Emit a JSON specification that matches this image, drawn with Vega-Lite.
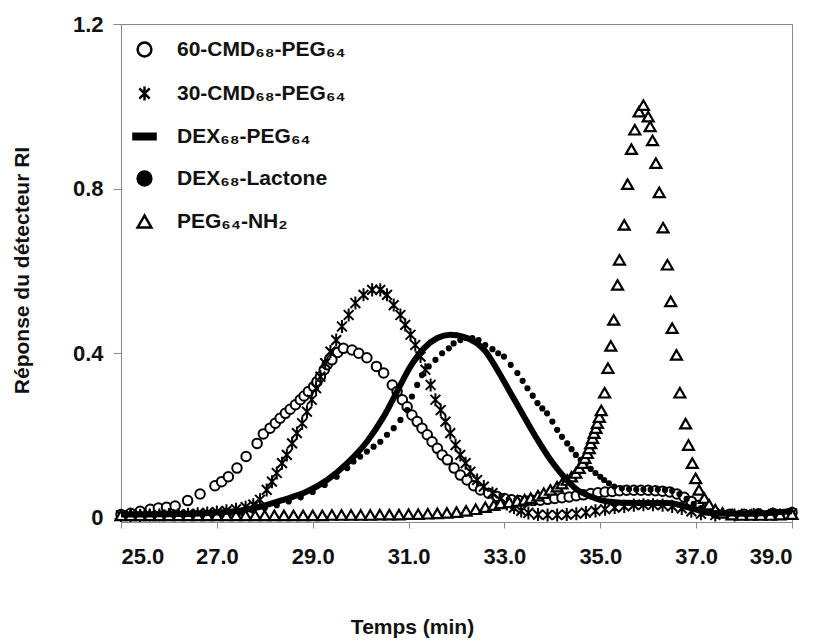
{
  "$schema": "https://vega.github.io/schema/vega-lite/v6.json",
  "width": 671,
  "height": 498,
  "autosize": {"type": "none"},
  "padding": {"left": 121, "top": 24, "right": 28, "bottom": 121},
  "background": "white",
  "config": {
    "view": {"stroke": "#888", "strokeWidth": 1},
    "font": "Liberation Sans",
    "axis": {
      "grid": false,
      "domainColor": "#888",
      "tickColor": "#888",
      "labelFont": "Liberation Sans",
      "labelFontWeight": "bold",
      "labelColor": "#111",
      "titleFont": "Liberation Sans",
      "titleFontWeight": "bold",
      "titleColor": "#111"
    },
    "legend": {
      "labelFont": "Liberation Sans",
      "labelFontWeight": "bold",
      "labelFontSize": 21,
      "labelColor": "#111",
      "labelLimit": 400,
      "symbolSize": 190,
      "symbolStrokeWidth": 2.5
    }
  },
  "datasets": {
    "chrom": [
      {"s":"dp","t":25.0,"r":0.008},{"s":"dp","t":25.5,"r":0.008},{"s":"dp","t":26.0,"r":0.009},{"s":"dp","t":26.5,"r":0.01},{"s":"dp","t":27.0,"r":0.013},{"s":"dp","t":27.5,"r":0.018},{"s":"dp","t":27.9,"r":0.027},{"s":"dp","t":28.39,"r":0.044},{"s":"dp","t":28.88,"r":0.064},{"s":"dp","t":29.3,"r":0.092},{"s":"dp","t":29.72,"r":0.133},{"s":"dp","t":30.13,"r":0.185},{"s":"dp","t":30.48,"r":0.246},{"s":"dp","t":30.76,"r":0.307},{"s":"dp","t":31.04,"r":0.368},{"s":"dp","t":31.32,"r":0.412},{"s":"dp","t":31.6,"r":0.437},{"s":"dp","t":31.87,"r":0.445},{"s":"dp","t":32.15,"r":0.44},{"s":"dp","t":32.43,"r":0.424},{"s":"dp","t":32.6,"r":0.405},{"s":"dp","t":32.85,"r":0.36},{"s":"dp","t":33.13,"r":0.303},{"s":"dp","t":33.41,"r":0.246},{"s":"dp","t":33.69,"r":0.19},{"s":"dp","t":33.96,"r":0.141},{"s":"dp","t":34.24,"r":0.1},{"s":"dp","t":34.52,"r":0.068},{"s":"dp","t":34.8,"r":0.052},{"s":"dp","t":35.15,"r":0.04},{"s":"dp","t":35.71,"r":0.036},{"s":"dp","t":36.4,"r":0.036},{"s":"dp","t":36.89,"r":0.024},{"s":"dp","t":37.31,"r":0.012},{"s":"dp","t":38.0,"r":0.01},{"s":"dp","t":38.5,"r":0.012},{"s":"dp","t":39.0,"r":0.016},

      {"s":"c60","t":25.0,"r":0.008},{"s":"c60","t":25.2,"r":0.011},{"s":"c60","t":25.4,"r":0.016},{"s":"c60","t":25.61,"r":0.021},{"s":"c60","t":25.78,"r":0.024},{"s":"c60","t":25.95,"r":0.026},{"s":"c60","t":26.13,"r":0.029},{"s":"c60","t":26.39,"r":0.042},{"s":"c60","t":26.65,"r":0.058},{"s":"c60","t":26.96,"r":0.078},{"s":"c60","t":27.1,"r":0.088},{"s":"c60","t":27.24,"r":0.1},{"s":"c60","t":27.42,"r":0.121},{"s":"c60","t":27.61,"r":0.149},{"s":"c60","t":27.84,"r":0.181},{"s":"c60","t":27.97,"r":0.204},{"s":"c60","t":28.11,"r":0.218},{"s":"c60","t":28.22,"r":0.23},{"s":"c60","t":28.32,"r":0.242},{"s":"c60","t":28.43,"r":0.254},{"s":"c60","t":28.53,"r":0.264},{"s":"c60","t":28.64,"r":0.275},{"s":"c60","t":28.74,"r":0.287},{"s":"c60","t":28.82,"r":0.296},{"s":"c60","t":28.91,"r":0.307},{"s":"c60","t":29.02,"r":0.319},{"s":"c60","t":29.09,"r":0.331},{"s":"c60","t":29.16,"r":0.343},{"s":"c60","t":29.24,"r":0.36},{"s":"c60","t":29.3,"r":0.372},{"s":"c60","t":29.4,"r":0.384},{"s":"c60","t":29.52,"r":0.402},{"s":"c60","t":29.64,"r":0.412},{"s":"c60","t":29.82,"r":0.408},{"s":"c60","t":29.96,"r":0.4},{"s":"c60","t":30.13,"r":0.389},{"s":"c60","t":30.33,"r":0.368},{"s":"c60","t":30.48,"r":0.352},{"s":"c60","t":30.66,"r":0.323},{"s":"c60","t":30.76,"r":0.307},{"s":"c60","t":30.87,"r":0.287},{"s":"c60","t":30.97,"r":0.27},{"s":"c60","t":31.07,"r":0.25},{"s":"c60","t":31.18,"r":0.234},{"s":"c60","t":31.28,"r":0.218},{"s":"c60","t":31.39,"r":0.202},{"s":"c60","t":31.49,"r":0.185},{"s":"c60","t":31.6,"r":0.169},{"s":"c60","t":31.7,"r":0.153},{"s":"c60","t":31.81,"r":0.141},{"s":"c60","t":31.95,"r":0.121},{"s":"c60","t":32.08,"r":0.104},{"s":"c60","t":32.22,"r":0.092},{"s":"c60","t":32.36,"r":0.078},{"s":"c60","t":32.5,"r":0.068},{"s":"c60","t":32.67,"r":0.06},{"s":"c60","t":32.85,"r":0.052},{"s":"c60","t":33.0,"r":0.047},{"s":"c60","t":33.15,"r":0.044},{"s":"c60","t":33.3,"r":0.042},{"s":"c60","t":33.45,"r":0.041},{"s":"c60","t":33.6,"r":0.042},{"s":"c60","t":33.75,"r":0.043},{"s":"c60","t":33.9,"r":0.045},{"s":"c60","t":34.05,"r":0.047},{"s":"c60","t":34.2,"r":0.049},{"s":"c60","t":34.35,"r":0.051},{"s":"c60","t":34.5,"r":0.054},{"s":"c60","t":34.65,"r":0.056},{"s":"c60","t":34.8,"r":0.059},{"s":"c60","t":34.95,"r":0.061},{"s":"c60","t":35.1,"r":0.063},{"s":"c60","t":35.25,"r":0.064},{"s":"c60","t":35.4,"r":0.066},{"s":"c60","t":35.55,"r":0.067},{"s":"c60","t":35.7,"r":0.067},{"s":"c60","t":35.85,"r":0.067},{"s":"c60","t":36.0,"r":0.067},{"s":"c60","t":36.15,"r":0.066},{"s":"c60","t":36.3,"r":0.065},{"s":"c60","t":36.45,"r":0.063},{"s":"c60","t":36.6,"r":0.058},{"s":"c60","t":36.75,"r":0.05},{"s":"c60","t":36.9,"r":0.04},{"s":"c60","t":37.05,"r":0.03},{"s":"c60","t":37.2,"r":0.02},{"s":"c60","t":37.4,"r":0.012},{"s":"c60","t":37.7,"r":0.009},{"s":"c60","t":38.0,"r":0.009},{"s":"c60","t":38.3,"r":0.01},{"s":"c60","t":38.6,"r":0.011},{"s":"c60","t":39.0,"r":0.013},

      {"s":"c30","t":25.0,"r":0.006},{"s":"c30","t":25.2,"r":0.006},{"s":"c30","t":25.4,"r":0.006},{"s":"c30","t":25.6,"r":0.007},{"s":"c30","t":25.8,"r":0.007},{"s":"c30","t":26.0,"r":0.008},{"s":"c30","t":26.2,"r":0.008},{"s":"c30","t":26.4,"r":0.009},{"s":"c30","t":26.6,"r":0.01},{"s":"c30","t":26.8,"r":0.012},{"s":"c30","t":27.0,"r":0.014},{"s":"c30","t":27.2,"r":0.017},{"s":"c30","t":27.4,"r":0.021},{"s":"c30","t":27.6,"r":0.026},{"s":"c30","t":27.76,"r":0.032},{"s":"c30","t":27.9,"r":0.044},{"s":"c30","t":28.04,"r":0.068},{"s":"c30","t":28.15,"r":0.088},{"s":"c30","t":28.25,"r":0.109},{"s":"c30","t":28.36,"r":0.133},{"s":"c30","t":28.46,"r":0.153},{"s":"c30","t":28.57,"r":0.181},{"s":"c30","t":28.67,"r":0.206},{"s":"c30","t":28.78,"r":0.23},{"s":"c30","t":28.88,"r":0.258},{"s":"c30","t":28.98,"r":0.287},{"s":"c30","t":29.07,"r":0.315},{"s":"c30","t":29.16,"r":0.343},{"s":"c30","t":29.26,"r":0.376},{"s":"c30","t":29.37,"r":0.404},{"s":"c30","t":29.49,"r":0.432},{"s":"c30","t":29.61,"r":0.465},{"s":"c30","t":29.75,"r":0.493},{"s":"c30","t":29.89,"r":0.522},{"s":"c30","t":30.06,"r":0.542},{"s":"c30","t":30.24,"r":0.554},{"s":"c30","t":30.41,"r":0.554},{"s":"c30","t":30.55,"r":0.542},{"s":"c30","t":30.69,"r":0.517},{"s":"c30","t":30.83,"r":0.493},{"s":"c30","t":30.93,"r":0.469},{"s":"c30","t":31.04,"r":0.445},{"s":"c30","t":31.14,"r":0.42},{"s":"c30","t":31.25,"r":0.392},{"s":"c30","t":31.35,"r":0.36},{"s":"c30","t":31.46,"r":0.323},{"s":"c30","t":31.56,"r":0.287},{"s":"c30","t":31.67,"r":0.262},{"s":"c30","t":31.77,"r":0.234},{"s":"c30","t":31.87,"r":0.206},{"s":"c30","t":31.98,"r":0.177},{"s":"c30","t":32.08,"r":0.153},{"s":"c30","t":32.19,"r":0.133},{"s":"c30","t":32.29,"r":0.112},{"s":"c30","t":32.43,"r":0.092},{"s":"c30","t":32.57,"r":0.076},{"s":"c30","t":32.75,"r":0.06},{"s":"c30","t":32.9,"r":0.045},{"s":"c30","t":33.05,"r":0.034},{"s":"c30","t":33.2,"r":0.025},{"s":"c30","t":33.35,"r":0.017},{"s":"c30","t":33.5,"r":0.012},{"s":"c30","t":33.7,"r":0.008},{"s":"c30","t":33.9,"r":0.007},{"s":"c30","t":34.1,"r":0.007},{"s":"c30","t":34.3,"r":0.008},{"s":"c30","t":34.5,"r":0.01},{"s":"c30","t":34.7,"r":0.013},{"s":"c30","t":34.9,"r":0.017},{"s":"c30","t":35.1,"r":0.021},{"s":"c30","t":35.3,"r":0.025},{"s":"c30","t":35.5,"r":0.028},{"s":"c30","t":35.7,"r":0.031},{"s":"c30","t":35.9,"r":0.032},{"s":"c30","t":36.1,"r":0.032},{"s":"c30","t":36.3,"r":0.031},{"s":"c30","t":36.5,"r":0.028},{"s":"c30","t":36.7,"r":0.023},{"s":"c30","t":36.9,"r":0.016},{"s":"c30","t":37.1,"r":0.01},{"s":"c30","t":37.4,"r":0.007},{"s":"c30","t":37.8,"r":0.007},{"s":"c30","t":38.2,"r":0.008},{"s":"c30","t":38.6,"r":0.009},{"s":"c30","t":39.0,"r":0.011},

      {"s":"dl","t":25.0,"r":0.004},{"s":"dl","t":25.2,"r":0.004},{"s":"dl","t":25.4,"r":0.004},{"s":"dl","t":25.6,"r":0.004},{"s":"dl","t":25.8,"r":0.005},{"s":"dl","t":26.0,"r":0.005},{"s":"dl","t":26.2,"r":0.005},{"s":"dl","t":26.4,"r":0.006},{"s":"dl","t":26.6,"r":0.006},{"s":"dl","t":26.8,"r":0.007},{"s":"dl","t":27.0,"r":0.008},{"s":"dl","t":27.25,"r":0.01},{"s":"dl","t":27.5,"r":0.013},{"s":"dl","t":27.75,"r":0.018},{"s":"dl","t":28.0,"r":0.024},{"s":"dl","t":28.25,"r":0.031},{"s":"dl","t":28.5,"r":0.04},{"s":"dl","t":28.75,"r":0.05},{"s":"dl","t":29.0,"r":0.063},{"s":"dl","t":29.25,"r":0.08},{"s":"dl","t":29.5,"r":0.1},{"s":"dl","t":29.72,"r":0.121},{"s":"dl","t":29.85,"r":0.137},{"s":"dl","t":29.99,"r":0.149},{"s":"dl","t":30.13,"r":0.161},{"s":"dl","t":30.27,"r":0.173},{"s":"dl","t":30.41,"r":0.185},{"s":"dl","t":30.55,"r":0.202},{"s":"dl","t":30.69,"r":0.218},{"s":"dl","t":30.83,"r":0.238},{"s":"dl","t":30.97,"r":0.262},{"s":"dl","t":31.07,"r":0.295},{"s":"dl","t":31.18,"r":0.323},{"s":"dl","t":31.28,"r":0.347},{"s":"dl","t":31.42,"r":0.368},{"s":"dl","t":31.56,"r":0.384},{"s":"dl","t":31.7,"r":0.4},{"s":"dl","t":31.84,"r":0.412},{"s":"dl","t":31.94,"r":0.424},{"s":"dl","t":32.08,"r":0.432},{"s":"dl","t":32.2,"r":0.437},{"s":"dl","t":32.33,"r":0.437},{"s":"dl","t":32.46,"r":0.432},{"s":"dl","t":32.6,"r":0.42},{"s":"dl","t":32.75,"r":0.41},{"s":"dl","t":32.87,"r":0.4},{"s":"dl","t":32.99,"r":0.392},{"s":"dl","t":33.13,"r":0.372},{"s":"dl","t":33.27,"r":0.352},{"s":"dl","t":33.38,"r":0.333},{"s":"dl","t":33.48,"r":0.315},{"s":"dl","t":33.59,"r":0.297},{"s":"dl","t":33.69,"r":0.279},{"s":"dl","t":33.79,"r":0.266},{"s":"dl","t":33.89,"r":0.254},{"s":"dl","t":34.0,"r":0.234},{"s":"dl","t":34.1,"r":0.214},{"s":"dl","t":34.2,"r":0.197},{"s":"dl","t":34.31,"r":0.181},{"s":"dl","t":34.4,"r":0.167},{"s":"dl","t":34.49,"r":0.153},{"s":"dl","t":34.59,"r":0.141},{"s":"dl","t":34.69,"r":0.129},{"s":"dl","t":34.8,"r":0.119},{"s":"dl","t":34.9,"r":0.109},{"s":"dl","t":35.0,"r":0.1},{"s":"dl","t":35.08,"r":0.092},{"s":"dl","t":35.18,"r":0.084},{"s":"dl","t":35.29,"r":0.076},{"s":"dl","t":35.45,"r":0.072},{"s":"dl","t":35.6,"r":0.07},{"s":"dl","t":35.75,"r":0.069},{"s":"dl","t":35.9,"r":0.069},{"s":"dl","t":36.05,"r":0.069},{"s":"dl","t":36.2,"r":0.069},{"s":"dl","t":36.35,"r":0.068},{"s":"dl","t":36.5,"r":0.066},{"s":"dl","t":36.65,"r":0.058},{"s":"dl","t":36.8,"r":0.046},{"s":"dl","t":36.95,"r":0.034},{"s":"dl","t":37.1,"r":0.024},{"s":"dl","t":37.3,"r":0.015},{"s":"dl","t":37.6,"r":0.01},{"s":"dl","t":38.0,"r":0.008},{"s":"dl","t":38.4,"r":0.009},{"s":"dl","t":38.8,"r":0.011},{"s":"dl","t":39.0,"r":0.012},

      {"s":"pn","t":25.0,"r":0.006},{"s":"pn","t":25.2,"r":0.006},{"s":"pn","t":25.4,"r":0.006},{"s":"pn","t":25.6,"r":0.006},{"s":"pn","t":25.8,"r":0.006},{"s":"pn","t":26.0,"r":0.006},{"s":"pn","t":26.2,"r":0.006},{"s":"pn","t":26.4,"r":0.006},{"s":"pn","t":26.6,"r":0.006},{"s":"pn","t":26.8,"r":0.006},{"s":"pn","t":27.0,"r":0.006},{"s":"pn","t":27.2,"r":0.006},{"s":"pn","t":27.4,"r":0.006},{"s":"pn","t":27.6,"r":0.006},{"s":"pn","t":27.8,"r":0.006},{"s":"pn","t":28.0,"r":0.006},{"s":"pn","t":28.2,"r":0.006},{"s":"pn","t":28.4,"r":0.006},{"s":"pn","t":28.6,"r":0.006},{"s":"pn","t":28.8,"r":0.006},{"s":"pn","t":29.0,"r":0.006},{"s":"pn","t":29.2,"r":0.006},{"s":"pn","t":29.4,"r":0.007},{"s":"pn","t":29.6,"r":0.007},{"s":"pn","t":29.8,"r":0.007},{"s":"pn","t":30.0,"r":0.007},{"s":"pn","t":30.2,"r":0.007},{"s":"pn","t":30.4,"r":0.008},{"s":"pn","t":30.6,"r":0.008},{"s":"pn","t":30.8,"r":0.008},{"s":"pn","t":31.0,"r":0.009},{"s":"pn","t":31.2,"r":0.009},{"s":"pn","t":31.4,"r":0.01},{"s":"pn","t":31.6,"r":0.011},{"s":"pn","t":31.8,"r":0.012},{"s":"pn","t":32.0,"r":0.014},{"s":"pn","t":32.2,"r":0.017},{"s":"pn","t":32.4,"r":0.021},{"s":"pn","t":32.6,"r":0.026},{"s":"pn","t":32.78,"r":0.031},{"s":"pn","t":32.92,"r":0.035},{"s":"pn","t":33.1,"r":0.038},{"s":"pn","t":33.27,"r":0.041},{"s":"pn","t":33.42,"r":0.044},{"s":"pn","t":33.55,"r":0.048},{"s":"pn","t":33.7,"r":0.054},{"s":"pn","t":33.82,"r":0.06},{"s":"pn","t":33.96,"r":0.068},{"s":"pn","t":34.1,"r":0.076},{"s":"pn","t":34.2,"r":0.083},{"s":"pn","t":34.31,"r":0.092},{"s":"pn","t":34.4,"r":0.1},{"s":"pn","t":34.49,"r":0.109},{"s":"pn","t":34.56,"r":0.121},{"s":"pn","t":34.63,"r":0.133},{"s":"pn","t":34.68,"r":0.145},{"s":"pn","t":34.73,"r":0.157},{"s":"pn","t":34.77,"r":0.169},{"s":"pn","t":34.8,"r":0.181},{"s":"pn","t":34.84,"r":0.194},{"s":"pn","t":34.87,"r":0.206},{"s":"pn","t":34.91,"r":0.218},{"s":"pn","t":34.94,"r":0.23},{"s":"pn","t":34.98,"r":0.245},{"s":"pn","t":35.02,"r":0.261},{"s":"pn","t":35.09,"r":0.304},{"s":"pn","t":35.16,"r":0.364},{"s":"pn","t":35.22,"r":0.418},{"s":"pn","t":35.28,"r":0.481},{"s":"pn","t":35.36,"r":0.566},{"s":"pn","t":35.4,"r":0.627},{"s":"pn","t":35.5,"r":0.712},{"s":"pn","t":35.57,"r":0.811},{"s":"pn","t":35.65,"r":0.896},{"s":"pn","t":35.72,"r":0.943},{"s":"pn","t":35.81,"r":0.987},{"s":"pn","t":35.9,"r":1.003},{"s":"pn","t":36.0,"r":0.975},{"s":"pn","t":36.04,"r":0.951},{"s":"pn","t":36.09,"r":0.917},{"s":"pn","t":36.16,"r":0.862},{"s":"pn","t":36.23,"r":0.791},{"s":"pn","t":36.31,"r":0.705},{"s":"pn","t":36.4,"r":0.615},{"s":"pn","t":36.47,"r":0.526},{"s":"pn","t":36.5,"r":0.461},{"s":"pn","t":36.59,"r":0.396},{"s":"pn","t":36.66,"r":0.304},{"s":"pn","t":36.78,"r":0.229},{"s":"pn","t":36.84,"r":0.177},{"s":"pn","t":36.92,"r":0.133},{"s":"pn","t":36.99,"r":0.096},{"s":"pn","t":37.06,"r":0.068},{"s":"pn","t":37.17,"r":0.048},{"s":"pn","t":37.27,"r":0.032},{"s":"pn","t":37.4,"r":0.02},{"s":"pn","t":37.55,"r":0.012},{"s":"pn","t":37.75,"r":0.008},{"s":"pn","t":37.95,"r":0.007},{"s":"pn","t":38.15,"r":0.007},{"s":"pn","t":38.35,"r":0.007},{"s":"pn","t":38.55,"r":0.007},{"s":"pn","t":38.75,"r":0.008},{"s":"pn","t":39.0,"r":0.009}
    ]
  },
  "data": {"name": "chrom"},
  "encoding": {
    "x": {
      "field": "t", "type": "quantitative",
      "scale": {"domain": [25, 39], "nice": false, "zero": false},
      "axis": {
        "values": [25, 27, 29, 31, 33, 35, 37, 39],
        "format": ".1f",
        "labelFontSize": 22,
        "tickSize": 6,
        "labelPadding": 18,
        "title": "Temps (min)",
        "titleFontSize": 21,
        "titleX": 291,
        "titleY": 105,
        "titleBaseline": "middle",
        "titleAnchor": null
      }
    },
    "y": {
      "field": "r", "type": "quantitative",
      "scale": {"domain": [-0.01, 1.2], "nice": false, "zero": false},
      "axis": {
        "values": [0, 0.4, 0.8, 1.2],
        "labelExpr": "datum.value == 0 ? '0' : format(datum.value, '.1f')",
        "labelFontSize": 22,
        "tickSize": 8,
        "labelPadding": 10,
        "title": "Réponse du détecteur RI",
        "titleFontSize": 21,
        "titleX": -99,
        "titleY": 246,
        "titleBaseline": "middle",
        "titleAnchor": null
      }
    },
    "shape": {
      "field": "s", "type": "nominal",
      "scale": {
        "domain": ["c60", "c30", "dp", "dl", "pn"],
        "range": ["circle", "M-0.75,-0.75L0.75,0.75M-0.75,0.75L0.75,-0.75M0,-1L0,1", "M-1.6,-0.4H1.6V0.4H-1.6Z", "circle", "triangle-up"]
      },
      "legend": {
        "title": null,
        "orient": "none",
        "legendX": 13,
        "legendY": 15,
        "padding": 0,
        "rowPadding": 19,
        "labelOffset": 22,
        "labelLimit": 400,
        "symbolStrokeWidth": 2.5,
        "labelExpr": "datum.value == 'c60' ? '60-CMD₆₈-PEG₆₄' : datum.value == 'c30' ? '30-CMD₆₈-PEG₆₄' : datum.value == 'dp' ? 'DEX₆₈-PEG₆₄' : datum.value == 'dl' ? 'DEX₆₈-Lactone' : 'PEG₆₄-NH₂'"
      }
    },
    "fill": {
      "field": "s", "type": "nominal",
      "scale": {
        "domain": ["c60", "c30", "dp", "dl", "pn"],
        "range": ["white", "black", "black", "black", "white"]
      },
      "legend": {
        "title": null,
        "orient": "none",
        "legendX": 13,
        "legendY": 15,
        "padding": 0,
        "rowPadding": 19,
        "labelOffset": 22,
        "labelLimit": 400,
        "symbolStrokeWidth": 2.5,
        "labelExpr": "datum.value == 'c60' ? '60-CMD₆₈-PEG₆₄' : datum.value == 'c30' ? '30-CMD₆₈-PEG₆₄' : datum.value == 'dp' ? 'DEX₆₈-PEG₆₄' : datum.value == 'dl' ? 'DEX₆₈-Lactone' : 'PEG₆₄-NH₂'"
      }
    },
    "stroke": {
      "field": "s", "type": "nominal",
      "scale": {
        "domain": ["c60", "c30", "dp", "dl", "pn"],
        "range": ["black", "black", "black", "black", "black"]
      },
      "legend": {
        "title": null,
        "orient": "none",
        "legendX": 13,
        "legendY": 15,
        "padding": 0,
        "rowPadding": 19,
        "labelOffset": 22,
        "labelLimit": 400,
        "symbolStrokeWidth": 2.5,
        "labelExpr": "datum.value == 'c60' ? '60-CMD₆₈-PEG₆₄' : datum.value == 'c30' ? '30-CMD₆₈-PEG₆₄' : datum.value == 'dp' ? 'DEX₆₈-PEG₆₄' : datum.value == 'dl' ? 'DEX₆₈-Lactone' : 'PEG₆₄-NH₂'"
      }
    }
  },
  "layer": [
    {
      "transform": [{"filter": "datum.s == 'c60'"}],
      "mark": {"type": "point", "strokeWidth": 2, "opacity": 1, "size": 90}
    },
    {
      "transform": [{"filter": "datum.s == 'dl'"}],
      "mark": {"type": "point", "strokeWidth": 1.5, "opacity": 1, "size": 22}
    },
    {
      "transform": [{"filter": "datum.s == 'c30'"}],
      "mark": {"type": "point", "strokeWidth": 2, "opacity": 1, "size": 170}
    },
    {
      "transform": [{"filter": "datum.s == 'pn'"}],
      "mark": {"type": "point", "strokeWidth": 2.2, "opacity": 1, "size": 120}
    },
    {
      "transform": [{"filter": "datum.s == 'dp'"}],
      "mark": {"type": "line", "color": "black", "stroke": "black", "strokeWidth": 6, "interpolate": "monotone"},
      "encoding": {"shape": null, "fill": null, "stroke": null}
    }
  ]
}
